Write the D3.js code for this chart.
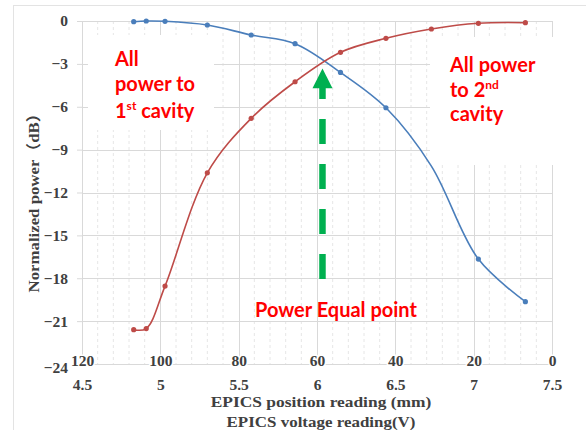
<!DOCTYPE html>
<html><head><meta charset="utf-8">
<script src="https://cdn.jsdelivr.net/npm/d3@7"></script>
<style>body{margin:0;background:#fff;} svg{display:block}</style>
</head><body>
<svg id="c" width="586" height="430"></svg>
<script>
// ---- data ----
const voltage = [4.83, 4.91, 5.03, 5.30, 5.58, 5.86, 6.15, 6.44, 6.73, 7.03, 7.33];
const firstCavityDb = [-0.05, 0.0, -0.02, -0.28, -0.98, -1.59, -3.60, -6.07, -10.15, -16.66, -19.64];
const secondCavityDb = [-21.60, -21.52, -18.55, -10.62, -6.81, -4.25, -2.19, -1.21, -0.56, -0.16, -0.12];
const firstCavityNoMarker = [8];   // point shown on the line but without a dot in the reference
const yTicks = [0, -3, -6, -9, -12, -15, -18, -21, -24];
const positionTicks = [120, 100, 80, 60, 40, 20, 0];
const voltageTicks = [4.5, 5, 5.5, 6, 6.5, 7, 7.5];
const equalPointVoltage = 6.035;

const svg = d3.select("#c");
const pLeft = 82, pRight = 552, pTop = 21, pBottom = 364;

const x = d3.scaleLinear().domain([4.5, 7.5]).range([pLeft, pRight]);
const xPos = d3.scaleLinear().domain([120, 0]).range([pLeft, pRight]);
const y = d3.scaleLinear().domain([-24, 0]).range([pBottom, pTop]);

// outer frame (light)
svg.append("rect").attr("x", 13.5).attr("y", 5.5).attr("width", 640).attr("height", 440)
  .attr("fill", "none").attr("stroke", "#e3e3e3");

// minor vertical gridlines
const minor = d3.range(45, 76, 1).map(v => v / 10).filter(v => !voltageTicks.some(t => Math.abs(t - v) < 1e-6));
svg.append("g").selectAll("line").data(minor).join("line")
  .attr("x1", d => x(d)).attr("x2", d => x(d)).attr("y1", pTop).attr("y2", pBottom)
  .attr("stroke", "#e6e6e6").attr("stroke-dasharray", "3,3");

// major gridlines
const grid = svg.append("g").attr("stroke", "#d9d9d9").attr("stroke-width", 1);
grid.selectAll(".h").data(yTicks).join("line")
  .attr("x1", pLeft).attr("x2", pRight).attr("y1", d => Math.round(y(d)) + 0.5).attr("y2", d => Math.round(y(d)) + 0.5);
grid.selectAll(".v").data(voltageTicks).join("line")
  .attr("x1", d => Math.round(x(d)) + 0.5).attr("x2", d => Math.round(x(d)) + 0.5).attr("y1", pTop).attr("y2", pBottom);

// white text boxes covering grid
svg.append("rect").attr("x", 88).attr("y", 35).attr("width", 126).attr("height", 95).attr("fill", "#fff");
svg.append("rect").attr("x", 430).attr("y", 37).attr("width", 150).attr("height", 128).attr("fill", "#fff");

// y axis
const tickFont = "'Liberation Serif', 'Times New Roman', serif";
const yAxis = svg.append("g").attr("transform", `translate(${pLeft},0)`)
  .call(d3.axisLeft(y).tickValues(yTicks).tickSize(5).tickPadding(9).tickFormat(d3.format("d")));
yAxis.select(".domain").remove();
yAxis.selectAll(".tick line").attr("stroke", "#d9d9d9");
yAxis.selectAll("text").attr("font-family", tickFont).attr("font-weight", "bold")
  .attr("font-size", 15.5).attr("fill", "#404040");
yAxis.selectAll(".tick").filter(d => d === -24).select("text").attr("dy", "0.55em");

// x axis (position)
const xa = svg.append("g").attr("transform", `translate(0,${pBottom})`)
  .call(d3.axisBottom(xPos).tickValues(positionTicks).tickSize(0).tickFormat(d3.format("d")));
xa.select(".domain").remove();
xa.selectAll("text").attr("y", -3).attr("dy", "0.35em")
  .attr("font-family", tickFont).attr("font-weight", "bold").attr("font-size", 15.5).attr("fill", "#404040")
  .attr("stroke", "#fff").attr("stroke-width", 3).attr("paint-order", "stroke");

// x axis (voltage)
const xv = svg.append("g").attr("transform", `translate(0,${pBottom})`)
  .call(d3.axisBottom(x).tickValues(voltageTicks).tickSize(0).tickFormat(d3.format("")));
xv.select(".domain").remove();
xv.selectAll("text").attr("y", 21).attr("dy", "0.35em")
  .attr("font-family", tickFont).attr("font-weight", "bold").attr("font-size", 15.5).attr("fill", "#404040");

// axis titles
svg.append("text").attr("transform", "translate(34,199) rotate(-90) scale(1.12,1)")
  .attr("text-anchor", "middle").attr("dy", "0.35em")
  .attr("font-family", tickFont + ", 'Noto Sans CJK SC'").attr("font-weight", "bold").attr("font-size", 15)
  .attr("fill", "#404040").text("Normalized power（dB）");
svg.append("text").attr("transform", "translate(321,407) scale(1.16,1)").attr("text-anchor", "middle")
  .attr("font-family", tickFont).attr("font-weight", "bold").attr("font-size", 15).attr("fill", "#404040")
  .text("EPICS position reading (mm)");
svg.append("text").attr("transform", "translate(321,427) scale(1.13,1)").attr("text-anchor", "middle")
  .attr("font-family", tickFont).attr("font-weight", "bold").attr("font-size", 15).attr("fill", "#404040")
  .text("EPICS voltage reading(V)");

// series
const curve = d3.curveCatmullRom.alpha(0.5);
const series = [
  { values: firstCavityDb, color: "#4a7ebb", hide: firstCavityNoMarker },
  { values: secondCavityDb, color: "#be4b48", hide: [] }
];
series.forEach(s => {
  const pts = voltage.map((v, i) => [v, s.values[i], i]);
  svg.append("path").datum(pts)
    .attr("d", d3.line().x(d => x(d[0])).y(d => y(d[1])).curve(curve))
    .attr("fill", "none").attr("stroke", s.color).attr("stroke-width", 1.6);
  svg.append("g").selectAll("circle").data(pts.filter(d => !s.hide.includes(d[2]))).join("circle")
    .attr("cx", d => x(d[0])).attr("cy", d => y(d[1])).attr("r", 2.6).attr("fill", s.color);
});

// green dashed arrow
const green = "#00b050";
const ax = x(equalPointVoltage);
svg.append("line").attr("x1", ax).attr("x2", ax).attr("y1", y(-18.05)).attr("y2", y(-4.6))
  .attr("stroke", green).attr("stroke-width", 6.5).attr("stroke-dasharray", "25,20");
svg.append("path")
  .attr("d", `M${ax},${y(-3.32)} L${ax - 10},${y(-4.7)} L${ax + 10},${y(-4.7)} Z`)
  .attr("fill", green);

// annotations
const labFont = "Lato, 'Open Sans', sans-serif";
function label(lines, x0, baselines) {
  lines.forEach((parts, i) => {
    const t = svg.append("text").attr("x", x0).attr("y", baselines[i])
      .attr("font-family", labFont).attr("font-weight", "bold").attr("font-size", 20).attr("fill", "#ff0000");
    parts.forEach(p => {
      const ts = t.append("tspan").text(p.t);
      if (p.sup) ts.attr("font-size", 12).attr("dy", -8);
      if (p.after) ts.attr("dy", 8);
    });
  });
}
label([[{t:"All"}], [{t:"power to"}], [{t:"1"}, {t:"st", sup:true}, {t:" cavity", after:true}]], 115, [66, 91, 118]);
label([[{t:"All power"}], [{t:"to 2"}, {t:"nd", sup:true}], [{t:"cavity"}]], 450, [71.5, 96.5, 121]);
svg.append("text").attr("x", 255).attr("y", 317)
  .attr("font-family", labFont).attr("font-weight", "bold").attr("font-size", 20).attr("fill", "#ff0000")
  .text("Power Equal point");
</script>
</body></html>
